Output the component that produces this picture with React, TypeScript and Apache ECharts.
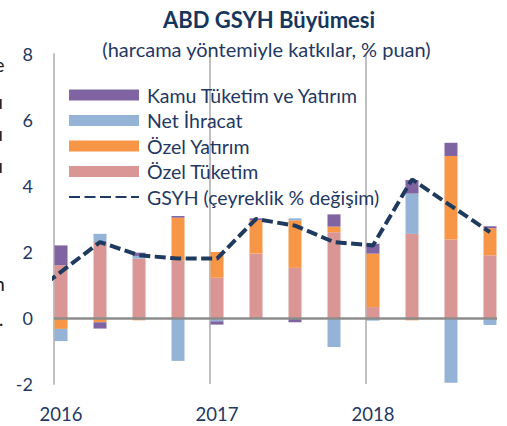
import React, { useEffect, useRef } from 'react';
import * as echarts from 'echarts';

// Çeyrekler (2016 Ç1 – 2018 Ç4)
const quarters = [
  '2016 Ç1', '2016 Ç2', '2016 Ç3', '2016 Ç4',
  '2017 Ç1', '2017 Ç2', '2017 Ç3', '2017 Ç4',
  '2018 Ç1', '2018 Ç2', '2018 Ç3', '2018 Ç4',
];

// Katkılar (% puan)
const ozelTuketim = [1.6, 2.3, 1.8, 1.75, 1.22, 1.95, 1.52, 2.6, 0.33, 2.55, 2.38, 1.9];
const ozelYatirim = [-0.33, -0.13, -0.07, 1.29, 0.78, 1.02, 1.44, 0.17, 1.62, -0.07, 2.53, 0.82];
const netIhracat = [-0.37, 0.25, 0.08, -1.3, -0.1, 0, 0.06, -0.88, -0.08, 1.22, -1.96, -0.21];
const kamu = [0.6, -0.19, 0.1, 0.05, -0.1, 0.05, -0.13, 0.37, 0.3, 0.41, 0.4, 0.06];

// GSYH (çeyreklik % değişim); önceki çeyrek (2015 Ç4) çizim alanının solunda kalıyor
const gsyhOnceki = 0.5;
const gsyh = [1.4, 2.3, 1.9, 1.8, 1.8, 3.0, 2.8, 2.3, 2.2, 4.2, 3.4, 2.6];

const yearLabels = ['2016', '2017', '2018'];
const seriesNames = {
  kamu: 'Kamu Tüketim ve Yatırım',
  net: 'Net İhracat',
  yat: 'Özel Yatırım',
  tuk: 'Özel Tüketim',
  gsyh: 'GSYH (çeyreklik % değişim)',
};

const NAVY = '#1F3864';
const LINE = '#1F3A5F';
const FONT = 'Lato, "Open Sans", sans-serif';

export default function App() {
  const ref = useRef<HTMLDivElement>(null);

  useEffect(() => {
    if (!ref.current) return;
    const chart = echarts.init(ref.current, undefined, { renderer: 'svg' });
    const shift = 0.18; // bar offset inside each quarter (quarter units)
    const pos = quarters.map((_, i) => i + shift);
    // value first so that the stacked dimension is y
    const barPair = (arr: number[]) => arr.map((v, i) => [v, pos[i]]);
    const linePair = (arr: number[]) => arr.map((v, i) => [pos[i], v]);

    const barBase = {
      type: 'bar' as const,
      stack: 'katki',
      stackStrategy: 'samesign',
      barWidth: 13,
      z: 2,
      encode: { x: 1, y: 0 },
    };

    chart.setOption({
      animation: false,
      backgroundColor: '#ffffff',
      textStyle: { fontFamily: FONT },
      grid: { left: 54, right: 10, top: 54, bottom: 42, containLabel: false },
      xAxis: {
        type: 'value',
        min: 0,
        max: 11.36,
        interval: 4,
        axisLine: { show: false },
        axisTick: { show: false },
        splitLine: { show: false },
        axisLabel: {
          color: NAVY,
          fontSize: 18.5,
          fontFamily: FONT,
          margin: 20,
          padding: [0, 0, 0, 14],
          formatter: (v: number) => (v % 4 === 0 && yearLabels[v / 4]) ? yearLabels[v / 4] : '',
        },
      },
      yAxis: {
        type: 'value',
        min: -2,
        max: 8,
        interval: 2,
        axisLine: { show: true, onZero: false, lineStyle: { color: '#BFBFBF', width: 2 } },
        axisTick: { show: false },
        splitLine: { show: false },
        axisLabel: { color: NAVY, fontSize: 18, fontFamily: FONT, margin: 21 },
      },
      legend: {
        orient: 'vertical',
        left: 63,
        top: 80,
        itemWidth: 70,
        itemHeight: 11,
        itemGap: 5.5,
        textStyle: { color: NAVY, fontSize: 19.5, fontFamily: FONT, lineHeight: 20, padding: [0, 0, 0, 3] },
        data: [
          { name: seriesNames.kamu, icon: 'rect' },
          { name: seriesNames.net, icon: 'rect' },
          { name: seriesNames.yat, icon: 'rect' },
          { name: seriesNames.tuk, icon: 'rect' },
          { name: seriesNames.gsyh, itemStyle: { opacity: 0, color: 'rgba(0,0,0,0)', borderWidth: 0 } },
        ],
      },
      graphic: [
        {
          type: 'text', x: 269, y: 19, z: 10,
          style: { text: 'ABD GSYH Büyümesi', fill: '#17365D', font: `bold 22px ${FONT}`, align: 'center', verticalAlign: 'middle' },
        },
        {
          type: 'text', x: 266.5, y: 49, z: 10,
          style: { text: '(harcama yöntemiyle katkılar, % puan)', fill: NAVY, font: `20px ${FONT}`, align: 'center', verticalAlign: 'middle' },
        },
        { type: 'text', x: 4.5, y: 64, style: { text: 'e', fill: '#222', font: `20px ${FONT}`, align: 'right', verticalAlign: 'middle' } },
        { type: 'text', x: 3, y: 101, style: { text: 'ı', fill: '#222', font: `20px ${FONT}`, align: 'right', verticalAlign: 'middle' } },
        { type: 'text', x: 3, y: 133, style: { text: 'ı', fill: '#222', font: `20px ${FONT}`, align: 'right', verticalAlign: 'middle' } },
        { type: 'text', x: 3, y: 165, style: { text: 'ı', fill: '#222', font: `20px ${FONT}`, align: 'right', verticalAlign: 'middle' } },
        { type: 'text', x: 5, y: 283, style: { text: 'n', fill: '#222', font: `20px ${FONT}`, align: 'right', verticalAlign: 'middle' } },
        { type: 'text', x: 3.5, y: 318, style: { text: '.', fill: '#222', font: `20px ${FONT}`, align: 'right', verticalAlign: 'middle' } },
      ],
      series: [
        {
          ...barBase,
          name: seriesNames.tuk,
          data: barPair(ozelTuketim),
          itemStyle: { color: '#D99694' },
          markLine: {
            silent: true,
            symbol: 'none',
            z: 1,
            label: { show: false },
            lineStyle: { color: '#BFBFBF', width: 2, type: 'solid' },
            data: [{ xAxis: 4 }, { xAxis: 8 }],
          },
        },
        { ...barBase, name: seriesNames.yat, data: barPair(ozelYatirim), itemStyle: { color: '#F79646' } },
        { ...barBase, name: seriesNames.net, data: barPair(netIhracat), itemStyle: { color: '#95B3D7' } },
        {
          ...barBase,
          name: seriesNames.kamu,
          data: barPair(kamu),
          itemStyle: { color: '#8064A2' },
          markLine: {
            silent: true,
            symbol: 'none',
            z: 8,
            label: { show: false },
            lineStyle: { color: '#8C8C8C', width: 2.5, type: 'solid' },
            data: [{ yAxis: 0 }],
          },
        },
        {
          type: 'line',
          name: seriesNames.gsyh,
          z: 9,
          symbol: 'none',
          clip: true,
          data: [[-1 + shift, gsyhOnceki], ...linePair(gsyh)],
          lineStyle: { color: LINE, width: 4, type: [11, 4.5], cap: 'butt' },
          itemStyle: { color: LINE },
        },
      ],
    });
    return () => chart.dispose();
  }, []);

  return (
    <div
      ref={ref}
      style={{ position: 'fixed', left: 0, top: 0, width: 507, height: 426, background: '#fff' }}
    />
  );
}
